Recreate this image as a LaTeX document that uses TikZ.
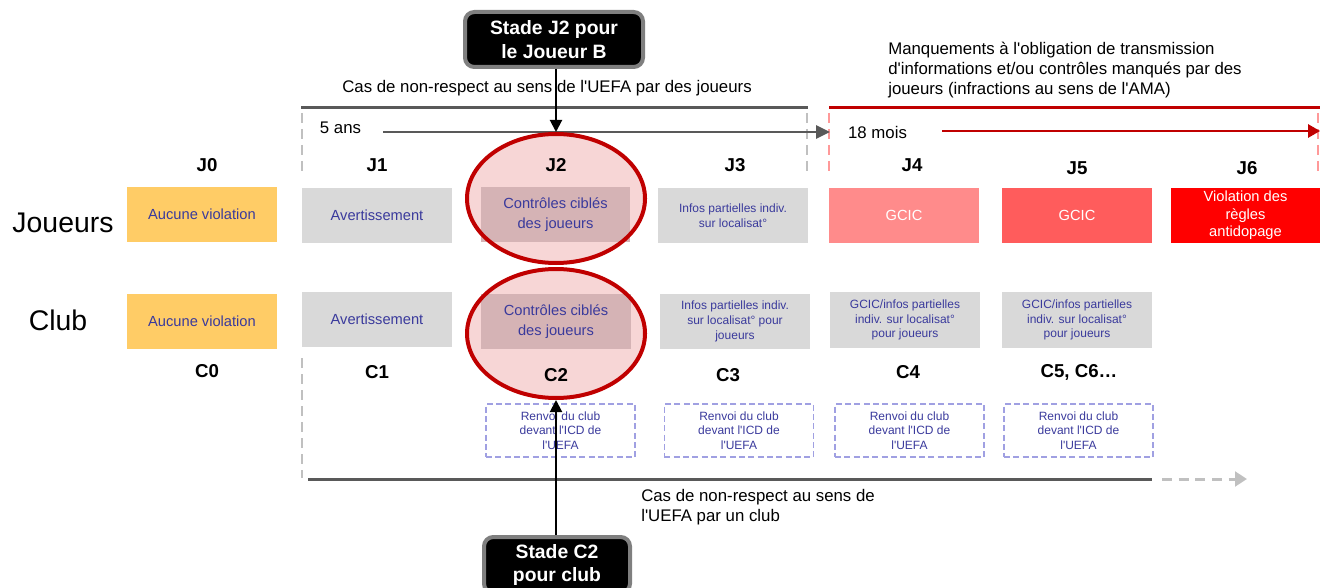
\documentclass[tikz,border=0pt]{standalone}
\usepackage{fontspec}
\setmainfont{Liberation Sans}
\usetikzlibrary{arrows.meta,shapes.geometric}
\newcommand{\myfs}[2]{\fontsize{#1}{#2}\selectfont}
\newcommand{\ap}{\textquotesingle}
\definecolor{dgray}{HTML}{595959}
\definecolor{lgray}{HTML}{C0C0C0}
\definecolor{boxgray}{HTML}{D9D9D9}
\definecolor{yel}{HTML}{FFCC66}
\definecolor{txtb}{HTML}{3A3A9C}
\definecolor{darkred}{HTML}{C00000}
\definecolor{pinkd}{HTML}{FF9999}
\definecolor{rA}{HTML}{FF8B8B}
\definecolor{rB}{HTML}{FF5C5C}
\definecolor{rC}{HTML}{FF0000}
\definecolor{ellfill}{HTML}{F7D6D6}
\definecolor{ellbox}{HTML}{D5B3B5}
\definecolor{renvb}{HTML}{A0A0E2}
\definecolor{stadeb}{HTML}{7F7F7F}
\tikzset{
  cell/.style={minimum width=112.5pt, minimum height=41.25pt, inner sep=0pt, align=center, text=txtb, font=\myfs{11}{15}},
  yelbox/.style={cell, fill=yel},
  graybox/.style={cell, fill=boxgray},
  smalltxt/.style={font=\myfs{9}{11}},
  redbox/.style={cell, text=white},
  renv/.style={minimum width=112pt, minimum height=40pt, inner sep=0pt, align=center, draw=renvb, line width=1.2pt, dash pattern=on 4.5pt off 2.5pt, text=txtb, font=\myfs{9}{11}},
  lab/.style={font=\bfseries\myfs{14}{16}, inner sep=0pt},
  bigtxt/.style={font=\myfs{21.3}{24}, inner sep=0pt},
  note/.style={font=\myfs{12.6}{15}, inner sep=0pt, align=left},
  stade/.style={fill=black, draw=stadeb, line width=3pt, rounded corners=7pt, text=white, font=\bfseries\myfs{14.5}{17.5}, align=center, inner sep=0pt},
  ell/.style={ellipse, minimum width=133.5pt, minimum height=96.75pt, inner sep=0pt},
  thickline/.style={line width=2.25pt},
  vdash/.style={line width=1.5pt, dash pattern=on 7.5pt off 4.5pt},
}
\begin{document}
\begin{tikzpicture}[x=0.75pt,y=-0.75pt]
\useasboundingbox (0,0) rectangle (1320,588);

% ellipses fill
\node[ell, fill=ellfill] (e1) at (556,198.5) {};
\node[ell, fill=ellfill] (e2) at (556,333.5) {};

% top texts
\node[note, align=center] (tcas) at (547,88) {Cas de non-respect au sens de l\ap UEFA par des joueurs};
\node[note, anchor=west] (tman) at (888,70) {Manquements à l\ap obligation de transmission\\d\ap informations et/ou contrôles manqués par des\\joueurs (infractions au sens de l\ap AMA)};

% horizontal lines
\coordinate (tl1) at (301,108); \coordinate (tl2) at (808,108);
\coordinate (rl1) at (829,108); \coordinate (rl2) at (1320,108);
\draw[thickline, dgray] (tl1) -- (tl2);
\draw[thickline, darkred] (rl1) -- (rl2);

% dashed verticals
\coordinate (v1a) at (302,113); \coordinate (v1b) at (302,177);
\coordinate (v1c) at (302,358); \coordinate (v1d) at (302,478);
\coordinate (v2a) at (807,113); \coordinate (v2b) at (807,177);
\coordinate (v3a) at (829,113); \coordinate (v3b) at (829,177);
\coordinate (v4a) at (1318,113); \coordinate (v4b) at (1318,177);
\draw[vdash, lgray] (v1a) -- (v1b);
\draw[vdash, lgray] (v1c) -- (v1d);
\draw[vdash, lgray] (v2a) -- (v2b);
\draw[vdash, pinkd] (v3a) -- (v3b);
\draw[vdash, pinkd] (v4a) -- (v4b);

% period arrows
\node[note] (t5) at (340.5,128) {5 ans};
\node[note] (t18) at (877.5,132) {18 mois};
\coordinate (a5s) at (383,132); \coordinate (a5e) at (830,132);
\coordinate (a18s) at (942,131); \coordinate (a18e) at (1320,131);
\draw[dgray, line width=1.5pt, -{Triangle[length=10.5pt,width=10pt]}] (a5s) -- (a5e);
\draw[darkred, line width=1.5pt, -{Triangle[length=9pt,width=10pt]}] (a18s) -- (a18e);

% row labels
\node[bigtxt] (joueurs) at (63,223) {Joueurs};
\node[bigtxt] (club) at (58,320) {Club};

% J labels
\node[lab] (lj0) at (207,165) {J0};
\node[lab] (lj1) at (377,165) {J1};
\node[lab] (lj2) at (556,165) {J2};
\node[lab] (lj3) at (735,165) {J3};
\node[lab] (lj4) at (912,165) {J4};
\node[lab] (lj5) at (1077,168) {J5};
\node[lab] (lj6) at (1247,168) {J6};

% C labels
\node[lab] (lc0) at (207,371) {C0};
\node[lab] (lc1) at (377,372) {C1};
\node[lab] (lc2) at (556,375) {C2};
\node[lab] (lc3) at (728,375) {C3};
\node[lab] (lc4) at (908,372) {C4};
\node[lab] (lc5) at (1079,372) {C5, C6…};

% Joueurs row boxes
\node[yelbox] (bj0) at (202,214.5) {Aucune violation};
\node[graybox] (bj1) at (377,215.5) {Avertissement};
\node[cell, fill=ellbox, minimum width=111.75pt] (bj2) at (555.5,214.5) {Contrôles ciblés\\des joueurs};
\node[graybox, smalltxt] (bj3) at (733,215.5) {Infos partielles indiv.\\sur localisat°};
\node[redbox, fill=rA] (bj4) at (904,215.5) {GCIC};
\node[redbox, fill=rB] (bj5) at (1077,215.5) {GCIC};
\node[redbox, fill=rC, minimum width=111.75pt, font=\myfs{11}{13}] (bj6) at (1245.5,215.5) {\raisebox{-2pt}{\parbox{110pt}{\centering Violation des\\règles\\antidopage}}};

% Club row boxes
\node[yelbox] (bc0) at (202,321.5) {Aucune violation};
\node[graybox] (bc1) at (377,319.5) {Avertissement};
\node[cell, fill=ellbox] (bc2) at (556,321.5) {Contrôles ciblés\\des joueurs};
\node[graybox, smalltxt] (bc3) at (735,321.5) {Infos partielles indiv.\\sur localisat° pour\\joueurs};
\node[graybox, smalltxt, minimum height=42pt] (bc4) at (905,320) {GCIC/infos partielles\\indiv. sur localisat°\\pour joueurs};
\node[graybox, smalltxt, minimum height=42pt] (bc5) at (1077,320) {GCIC/infos partielles\\indiv. sur localisat°\\pour joueurs};

% ellipse outlines
\node[ell, draw=darkred, line width=3pt] (e1o) at (e1) {};
\node[ell, draw=darkred, line width=3pt] (e2o) at (e2) {};

% Renvoi boxes
\node[renv] (r2) at (560.5,430.5) {Renvoi du club\\devant l\ap ICD de\\l\ap UEFA};
\node[renv] (r3) at (739,430.5) {Renvoi du club\\devant l\ap ICD de\\l\ap UEFA};
\node[renv] (r4) at (909.5,430.5) {Renvoi du club\\devant l\ap ICD de\\l\ap UEFA};
\node[renv] (r5) at (1078.5,430.5) {Renvoi du club\\devant l\ap ICD de\\l\ap UEFA};

% bottom line
\coordinate (bl1) at (308,479); \coordinate (bl2) at (1152,479);
\coordinate (bd1) at (1162,479); \coordinate (bd2) at (1247,479);
\draw[thickline, dgray] (bl1) -- (bl2);
\draw[thickline, lgray, dash pattern=on 7.5pt off 5pt, -{Triangle[length=9pt,width=11pt]}] (bd1) -- (bd2);
\node[note, anchor=north west] (tcas2) at (641,489) {Cas de non-respect au sens de\\l\ap UEFA par un club};

% stade boxes
\node[stade, minimum width=133.5pt, minimum height=41.25pt] (sj2) at (554,39.5) {Stade J2 pour\\le Joueur B};
\node[stade, minimum width=109.5pt, minimum height=42pt] (sc2) at (557,565) {Stade C2\\pour club};

% arrows
\draw[line width=1.5pt, -{Triangle[length=9pt,width=9pt]}] (sj2.south -| e1.north) -- (e1o.north);
\draw[line width=1.5pt, -{Triangle[length=9pt,width=9pt]}] (sc2.north -| e2.south) -- (e2o.south);
\end{tikzpicture}
\end{document}
